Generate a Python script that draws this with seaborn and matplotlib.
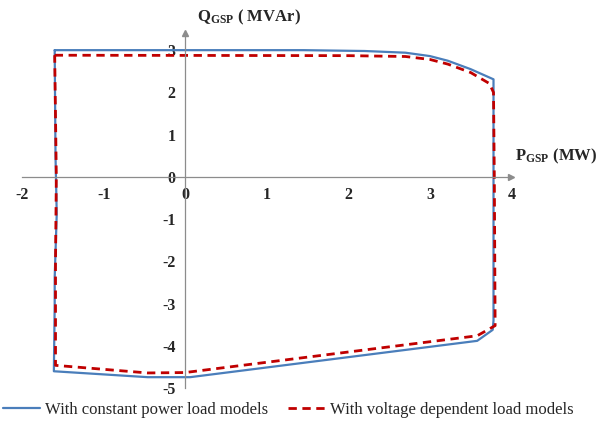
import numpy as np
import pandas as pd
import seaborn as sns
import matplotlib.pyplot as plt

# operating envelope of the GSP
p_const = [-1.60, 1.45, 2.2, 2.7, 3.0, 3.22, 3.5, 3.78, 3.78, 3.78, 3.77, 3.58, 0.06, -0.46, -1.61, -1.60, -1.60, -1.575, -1.59, -1.60]
q_const = [3.00, 3.00, 2.98, 2.94, 2.86, 2.75, 2.55, 2.31, 0.0, -3.40, -3.62, -3.88, -4.74, -4.74, -4.60, -3.0, -2.38, -0.88, 0.5, 3.00]

p_volt = [-1.60, 2.0, 2.7, 3.0, 3.22, 3.5, 3.73, 3.78, 3.79, 3.80, 3.58, 0.0, -0.46, -1.59, -1.59, -1.58, -1.60]
q_volt = [2.88, 2.87, 2.85, 2.78, 2.67, 2.47, 2.21, 2.0, 0.0, -3.52, -3.76, -4.63, -4.64, -4.46, -2.0, 0.0, 2.88]

x_ticks = [-2, -1, 0, 1, 2, 3, 4]
y_ticks = [-5, -4, -3, -2, -1, 0, 1, 2, 3]

lbl_const = "With constant power load models"
lbl_volt = "With voltage dependent load models"

df = pd.concat([
    pd.DataFrame({"P": p_const, "Q": q_const, "model": lbl_const}),
    pd.DataFrame({"P": p_volt, "Q": q_volt, "model": lbl_volt}),
])

sns.set_style("white")
plt.rcParams["font.family"] = ["Liberation Serif", "DejaVu Serif"]
plt.rcParams["mathtext.fontset"] = "custom"
plt.rcParams["mathtext.bf"] = "Liberation Serif:bold"
plt.rcParams["mathtext.rm"] = "Liberation Serif"
plt.rcParams["axes.unicode_minus"] = False

fig = plt.figure(figsize=(6.13, 4.21), dpi=100)
ax = fig.add_axes([0.036, 0.078, 0.801, 0.843])

axis_grey = "#8c8c8c"
sns.lineplot(data=df, x="P", y="Q", hue="model", style="model", sort=False, estimator=None,
             palette={lbl_const: "#4a7ebb", lbl_volt: "#c00000"},
             dashes={lbl_const: "", lbl_volt: (3, 2)},
             linewidth=1.6, ax=ax, legend=False)
ax.lines[1].set_linewidth(2.0)

ax.set_xlim(-2, 4.02)
ax.set_ylim(-5, 3.4)
ax.set_xticks(x_ticks)
ax.set_yticks(y_ticks)
ax.set_xlabel("")
ax.set_ylabel("")

for side in ["top", "right"]:
    ax.spines[side].set_visible(False)
ax.spines["left"].set_position(("data", 0))
ax.spines["bottom"].set_position(("data", 0))
ax.spines["left"].set_bounds(-5, 3.4)
ax.spines["bottom"].set_bounds(-2, 4.0)
for side in ["left", "bottom"]:
    ax.spines[side].set_color(axis_grey)
    ax.spines[side].set_linewidth(0.9)
ax.tick_params(axis="both", direction="out", length=4, width=0.9, color=axis_grey,
               labelsize=11.5, pad=3)
for t in ax.get_xticklabels() + ax.get_yticklabels():
    t.set_fontweight("bold")

# arrow heads on the axes
ax.plot([4.0], [0], marker=">", ms=5, color=axis_grey, clip_on=False)
ax.plot([0], [3.4], marker="^", ms=5, color=axis_grey, clip_on=False)

ax.text(4.04, 0.25, r"$\mathbf{P_{GSP}}$ (MW)", fontsize=12, fontweight="bold", ha="left", va="bottom")
ax.text(0.15, 3.55, r"$\mathbf{Q_{GSP}}$ ( MVAr)", fontsize=12, fontweight="bold", ha="left", va="bottom",
        clip_on=False)

handles = [plt.Line2D([], [], color="#4a7ebb", lw=1.6),
           plt.Line2D([], [], color="#c00000", lw=2.0, dashes=(3, 2))]
fig.legend(handles, [lbl_const, lbl_volt], loc="center", bbox_to_anchor=(0.47, 0.026), ncol=2,
           frameon=False, fontsize=12, handlelength=2.2, handletextpad=0.3, columnspacing=1.2)

fig.savefig("out.png", dpi=100)
